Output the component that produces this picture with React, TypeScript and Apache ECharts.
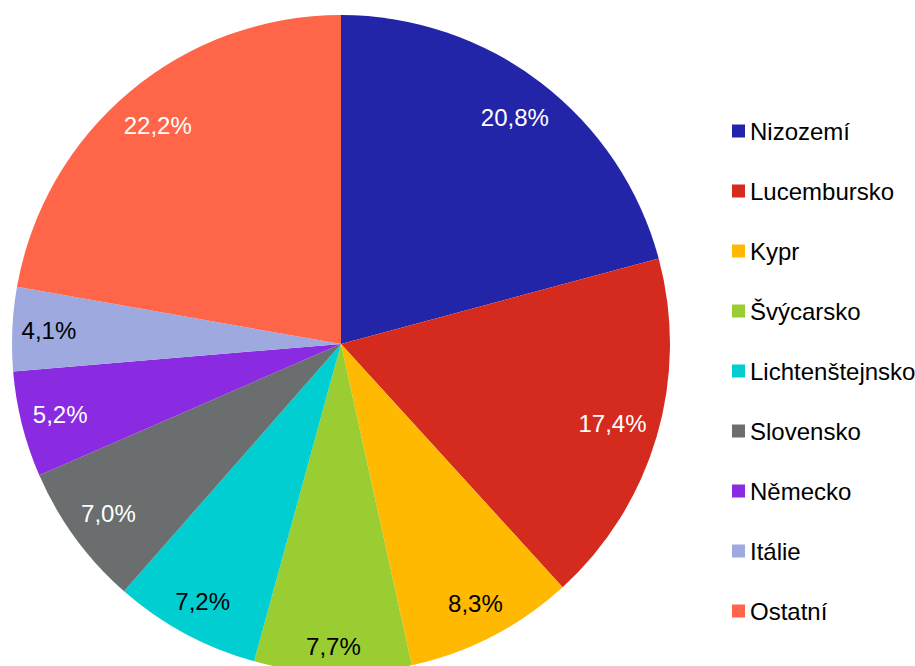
import React, { useEffect, useRef } from "react";
import * as echarts from "echarts";

const categories = ["Nizozemí", "Lucembursko", "Kypr", "Švýcarsko", "Lichtenštejnsko", "Slovensko", "Německo", "Itálie", "Ostatní"];
const values = [20.8, 17.4, 8.3, 7.7, 7.2, 7.0, 5.2, 4.1, 22.2];
const colors = ["#2325A8", "#D52B1E", "#FFB900", "#9ACD32", "#00CED1", "#6B6E6E", "#8A2BE2", "#9DA9DF", "#FF6549"];
const labelColors = ["#fff", "#fff", "#000", "#000", "#000", "#fff", "#fff", "#000", "#fff"];

const FONT = "'Liberation Sans', Arial, sans-serif";
const CX = 341;
const CY = 344;
const R = 329;
const LABEL_R = 320.5;
const LABEL_HALF_H = 17.7;

export default function App() {
  const ref = useRef<HTMLDivElement>(null);
  useEffect(() => {
    if (!ref.current) return;
    const chart = echarts.init(ref.current, null, { renderer: "svg" });
    const fmt = (v: number) => v.toFixed(1).replace(".", ",") + "%";
    const total = values.reduce((s, v) => s + v, 0);
    const mids: number[] = [];
    let cum = 0;
    values.forEach((v) => {
      mids.push(((cum + v / 2) / total) * Math.PI * 2);
      cum += v;
    });
    chart.setOption({
      animation: false,
      backgroundColor: "#fff",
      legend: {
        orient: "vertical",
        left: 732,
        top: 119,
        padding: 0,
        itemWidth: 13,
        itemHeight: 13,
        itemGap: 36,
        icon: "rect",
        data: categories,
        textStyle: { fontFamily: FONT, fontSize: 24, color: "#000", lineHeight: 24 },
      },
      series: [
        {
          type: "pie",
          center: [CX, CY],
          radius: [0, R],
          startAngle: 90,
          clockwise: true,
          silent: true,
          labelLine: { show: false },
          itemStyle: { borderWidth: 0 },
          label: {
            show: true,
            position: "inside",
            fontFamily: FONT,
            fontSize: 24,
            formatter: (p: any) => fmt(p.value),
          },
          labelLayout: (p: any) => {
            const th = mids[p.dataIndex];
            const ux = Math.sin(th);
            const uy = -Math.cos(th);
            const d = LABEL_R - Math.abs(ux) * (p.labelRect.width / 2) - Math.abs(uy) * LABEL_HALF_H;
            return { x: CX + d * ux, y: CY + d * uy, align: "center", verticalAlign: "middle" };
          },
          data: categories.map((c, i) => ({
            name: c,
            value: values[i],
            itemStyle: { color: colors[i] },
            label: { color: labelColors[i] },
          })),
        },
      ],
    });
    return () => chart.dispose();
  }, []);
  return <div ref={ref} style={{ position: "fixed", left: 0, top: 0, width: 915, height: 666 }} />;
}
